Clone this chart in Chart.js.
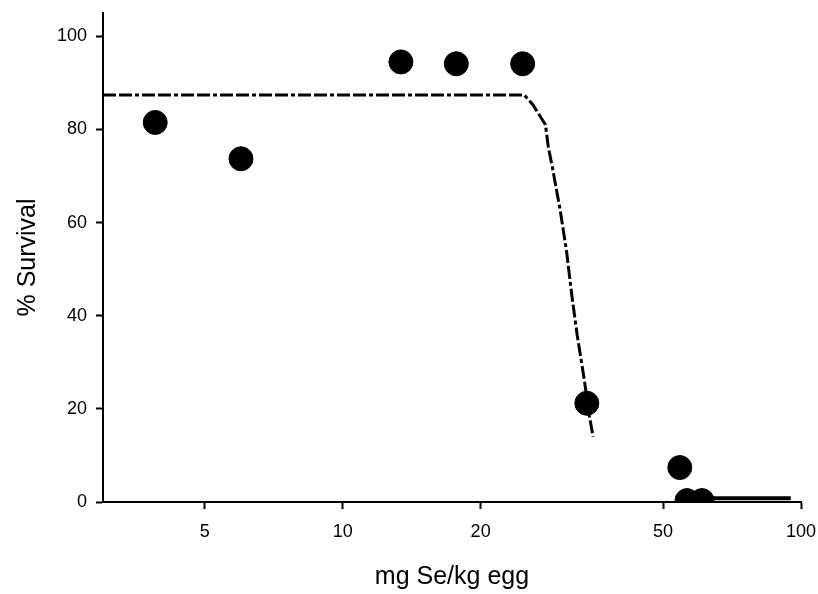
<!DOCTYPE html>
<html>
<head>
<meta charset="utf-8">
<script src="https://cdn.jsdelivr.net/npm/chart.js@4"></script>
<style>
    html, body { margin: 0; padding: 0; background: #fff; }
    #wrap { width: 818px; height: 594px; }
</style>
</head>
<body>
<div id="wrap"><canvas id="myChart" width="818" height="594"></canvas></div>
<script>
// measured survival per egg selenium level
const doseX = [3.9, 6.0, 13.4, 17.7, 24.7, 34.1, 54.4, 56.4, 60.8];
const survival = [81.5, 73.7, 94.5, 94.1, 94.1, 21.2, 7.4, 0.3, 0.3];

// fitted curve (dash-dot) and the flat tail near zero
const fitX = [3, 24.9, 26.0, 27.7, 28.1, 28.7, 29.8, 30.8, 31.6, 32.5, 33.6, 34.6, 35.2];
const fitY = [87.4, 87.4, 85.3, 81.0, 76.2, 71.7, 62.9, 53.8, 44.6, 35.7, 26.8, 18.0, 14.0];
const tailX = [57, 95];
const tailY = [0.8, 0.8];

const xTicks = [5, 10, 20, 50, 100];
const yTicks = [0, 20, 40, 60, 80, 100];

const toPoints = (xs, ys) => xs.map((x, i) => ({ x: x, y: ys[i] }));
const fontFamily = '"Liberation Sans", Arial, sans-serif';

// keep the plot box where the reference has it
function noOverflow(scale) {
    scale.paddingTop = 0;
    scale.paddingRight = 0;
    scale.paddingLeft = 0;
    scale.paddingBottom = 0;
}

const ctx = document.getElementById('myChart').getContext('2d');
const myChart = new Chart(ctx, {
    type: 'scatter',
    data: {
        datasets: [{
            label: 'Survival',
            data: toPoints(doseX, survival),
            backgroundColor: '#000',
            borderColor: '#000',
            pointRadius: 12,
            pointHoverRadius: 12,
            order: 0
        }, {
            label: 'Fit',
            data: toPoints(fitX, fitY),
            showLine: true,
            borderColor: '#000',
            borderWidth: 3,
            borderDash: [13, 3, 13, 3, 4, 3],
            pointRadius: 0,
            order: 1
        }, {
            label: 'Tail',
            data: toPoints(tailX, tailY),
            showLine: true,
            borderColor: '#000',
            borderWidth: 4,
            pointRadius: 0,
            order: 2
        }]
    },
    options: {
        responsive: false,
        animation: false,
        layout: { padding: { left: 0, right: 17, top: 10, bottom: 0 } },
        plugins: {
            legend: { display: false },
            tooltip: { enabled: false }
        },
        scales: {
            x: {
                type: 'logarithmic',
                min: 3,
                max: 100,
                afterBuildTicks: (scale) => {
                    scale.ticks = xTicks.map(v => ({ value: v }));
                },
                afterFit: (scale) => { scale.height = 92; noOverflow(scale); },
                border: { color: '#000', width: 2 },
                grid: {
                    drawOnChartArea: false,
                    drawTicks: true,
                    tickLength: 7,
                    tickWidth: 2,
                    tickColor: '#000'
                },
                ticks: {
                    color: '#000',
                    padding: 12,
                    maxRotation: 0,
                    font: { family: fontFamily, size: 18 },
                    callback: (v) => String(v)
                },
                title: {
                    display: true,
                    text: 'mg Se/kg egg',
                    color: '#000',
                    font: { family: fontFamily, size: 25 },
                    padding: { top: 0, bottom: 2 }
                }
            },
            y: {
                min: 0,
                max: 105,
                afterBuildTicks: (scale) => {
                    scale.ticks = yTicks.map(v => ({ value: v }));
                },
                afterFit: (scale) => { scale.width = 103; noOverflow(scale); },
                border: { color: '#000', width: 2 },
                grid: {
                    drawOnChartArea: false,
                    drawTicks: true,
                    tickLength: 7,
                    tickWidth: 2,
                    tickColor: '#000'
                },
                ticks: {
                    color: '#000',
                    padding: 9,
                    font: { family: fontFamily, size: 18 }
                },
                title: {
                    display: true,
                    text: '% Survival',
                    color: '#000',
                    font: { family: fontFamily, size: 25 },
                    padding: { top: 13, bottom: 0 }
                }
            }
        }
    }
});
</script>
</body>
</html>
